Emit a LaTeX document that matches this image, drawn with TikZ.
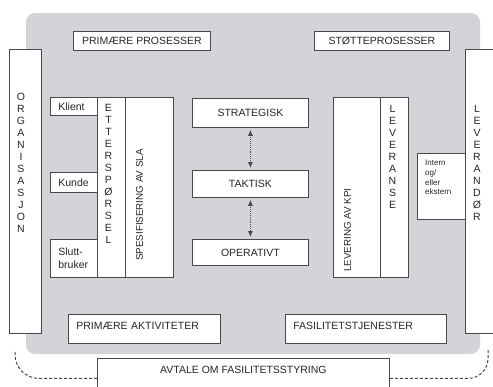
\documentclass[tikz,border=0pt]{standalone}
\usepackage{fontspec}
\setmainfont{Liberation Sans}
\usepackage{tikz}
\usetikzlibrary{arrows.meta,positioning}
\definecolor{panelgray}{RGB}{211,211,217}
\definecolor{edgegray}{RGB}{72,72,72}

\begin{document}
\begin{tikzpicture}[
   x=1pt,y=-1pt,
   font=\fontsize{10.5}{12}\selectfont,
   text=black!85,
   box/.style={draw=edgegray,fill=white,line width=0.8pt,inner sep=0pt,anchor=north west},
   lbox/.style={box,align=left,inner xsep=8pt},
   letters/.style={align=center,inner sep=0pt},
   vtext/.style={rotate=90,anchor=west,inner sep=0pt,font=\fontsize{9.8}{12}\selectfont},
   vlink/.style={<->,densely dotted,line width=0.9pt,draw=edgegray,shorten <=2pt,shorten >=2pt},
   dlink/.style={densely dashed,line width=1pt,draw=edgegray},
   >={Latex[length=6pt,width=5pt]}]
 \useasboundingbox (0,0) rectangle (493,386);
 \clip (0,0) rectangle (493,386);
 \fill[panelgray,rounded corners=9pt] (26,13) rectangle (480,354);
 \node[box,minimum width=137pt,minimum height=19pt] (primproc) at (73,31) {PRIMÆRE PROSESSER};
 \node[box,minimum width=135pt,minimum height=19pt] (support) at (314,31) {STØTTEPROSESSER};
 \node[box,minimum width=32pt,minimum height=284pt] (org) at (9,49) {};
 \node[letters] (orgtxt) at (21,162.5) {O\\R\\G\\A\\N\\I\\S\\A\\S\\J\\O\\N};
 \node[box,minimum width=40pt,minimum height=284pt] (supplier) at (465,49) {};
 \node[letters] (suppliertxt) at (477,162.5) {L\\E\\V\\E\\R\\A\\N\\D\\Ø\\R};
 \node[lbox,text width=31pt,minimum height=18pt] (klient) at (50,97) {Klient};
 \node[lbox,text width=31pt,minimum height=20pt] (kunde) at (50,172) {Kunde};
 \node[lbox,text width=31pt,minimum height=38pt] (slutt) at (50,239) {Slutt-\\[1pt]bruker};
 \node[box,minimum width=28pt,minimum height=180pt] (demand) at (97,97) {};
 \node[letters] (demandtxt) at (108.5,173.5) {E\\T\\T\\E\\R\\S\\P\\Ø\\R\\S\\E\\L};
 \node[box,minimum width=48pt,minimum height=180pt] (slaspec) at (125,97) {};
 \node[vtext] (slatxt) at (139.5,261) {SPESIFISERING AV SLA};
 \node[box,minimum width=116pt,minimum height=29pt] (strat) at (192,98) {STRATEGISK};
 \node[box,minimum width=116pt,minimum height=27pt] (takt) at (192,170) {TAKTISK};
 \node[box,minimum width=116pt,minimum height=26pt] (oper) at (192,239) {OPERATIVT};
 \draw[vlink] (strat) -- (takt);
 \draw[vlink] (takt) -- (oper);
 \node[box,minimum width=47pt,minimum height=180pt] (kpi) at (333,97) {};
 \node[vtext] (kpitxt) at (347.5,272) {LEVERING AV KPI};
 \node[box,minimum width=28pt,minimum height=180pt] (deliv) at (380,97) {};
 \node[letters] (delivtxt) at (392.5,156.7) {L\\E\\V\\E\\R\\A\\N\\S\\E};
 \node[box,minimum width=48pt,minimum height=66pt] (source) at (417,153) {};
 \node[anchor=north west,align=left,inner sep=0pt,font=\fontsize{8}{9.7}\selectfont] (sourcetxt) at (425,160) {Intern\\og/\\eller\\ekstern};
 \node[lbox,text width=136pt,minimum height=29pt,text height=7.5pt,text depth=7.3pt] (primact) at (68,314) {PRIMÆRE AKTIVITETER};
 \node[lbox,text width=145pt,minimum height=29pt,text height=7.5pt,text depth=7.3pt] (facserv) at (285,314) {FASILITETSTJENESTER};
 \node[box,minimum width=292pt,inner ysep=4pt,text height=11.5pt,text depth=20.5pt] (avtale) at (97,358) {AVTALE OM FASILITETSSTYRING};
 \coordinate (lefttip) at (15,350);
 \coordinate (righttip) at (488,350);
 \draw[dlink,rounded corners=24pt] (avtale.west) -| (lefttip);
 \draw[dlink,rounded corners=20pt] (avtale.east) -| (righttip);
\end{tikzpicture}
\end{document}
